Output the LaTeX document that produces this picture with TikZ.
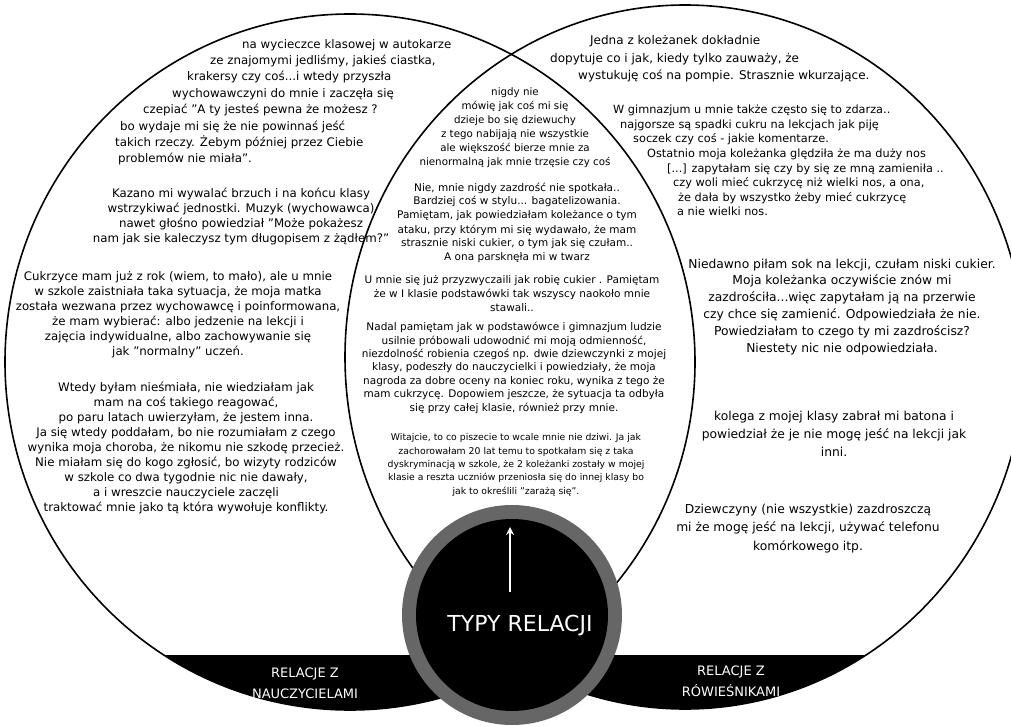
\documentclass[tikz,border=0pt]{standalone}
\usepackage{fontspec}
\setmainfont{DejaVu Sans}
\usetikzlibrary{arrows}

\begin{document}
\begin{tikzpicture}[x=1pt, y=-1pt,
    %Option for nice arrows
    >=stealth, %
    venn/.style={draw=black, line width=1.6pt},
    % multi-line nodes sit on the baseline of their last line
    story/.style 2 args={align=center, inner sep=0pt, anchor=base, font=\fontsize{#1}{#2}\selectfont},
    storyleft/.style 2 args={align=left, inner sep=0pt, anchor=base west, font=\fontsize{#1}{#2}\selectfont},
    bandlabel/.style={align=center, inner sep=0pt, text=white, font=\fontsize{13}{21}\selectfont},
]
    % Colors
    \colorlet{ringgray}{black!60}

    % Canvas
    \fill[white] (0,0) rectangle (1011,727);
    \useasboundingbox (0,0) rectangle (1011,727);

    % Circles
    \coordinate (L) at (350,362);
    \coordinate (R) at (685,357);
    \coordinate (M) at (512,615);
    \begin{scope}
      \clip (0,655) rectangle (1011,727);
      \fill (L) ellipse [x radius=345pt, y radius=348pt];
      \fill (R) ellipse [x radius=340pt, y radius=352pt];
    \end{scope}
    \draw[venn] (L) ellipse [x radius=345pt, y radius=348pt];
    \draw[venn] (R) ellipse [x radius=340pt, y radius=352pt];

    % Hub
    \fill[ringgray] (M) circle [radius=110pt];
    \fill[black] (M) circle [radius=96pt];
    \node[text=white, font=\fontsize{22}{26}\selectfont] (hub) at (520,626) {TYPY RELACJI};
    \coordinate (tail) at (510,592);
    \coordinate (tip) at (510,527);
    \draw[->, white, line width=2.5pt] (tail) -- (tip);

    \node[bandlabel] (teachers) at (305,683) {RELACJE Z\\NAUCZYCIELAMI};
    \node[bandlabel] (peers) at (731,681) {RELACJE Z\\RÓWIEŚNIKAMI};

    % Teachers
    \node[storyleft={11.8}{16.4}] (trip) at (115,163) {\hspace*{127pt}na wycieczce klasowej w autokarze\\\hspace*{95pt}ze znajomymi jedliśmy, jakieś ciastka,\\\hspace*{72pt}krakersy czy coś...i wtedy przyszła\\\hspace*{57pt}wychowawczyni do mnie i zaczęła się\\\hspace*{28pt}czepiać "A ty jesteś pewna że możesz ?\\\hspace*{5pt}bo wydaje mi się że nie powinnaś jeść\\takich rzeczy. Żebym później przez Ciebie\\\hspace*{3pt}problemów nie miała”.};
    \node[story={11.8}{15}] (belly) at (241,243) {Kazano mi wywalać brzuch i na końcu klasy\\wstrzykiwać jednostki. Muzyk (wychowawca)\\nawet głośno powiedział "Może pokażesz\\nam jak sie kaleczysz tym długopisem z żądłem?"};
    \node[story={11.8}{15}] (mother) at (178,355) {Cukrzyce mam już z rok (wiem, to mało), ale u mnie\\w szkole zaistniała taka sytuacja, że moja matka\\została wezwana przez wychowawcę i poinformowana,\\że mam wybierać:  albo jedzenie na lekcji i\\zajęcia indywidualne, albo zachowywanie się\\jak "normalny" uczeń.};
    \node[story={11.8}{15}] (shy) at (186,511) {Wtedy byłam nieśmiała, nie wiedziałam jak\\mam na coś takiego reagować,\\po paru latach uwierzyłam, że jestem inna.\\Ja się wtedy poddałam, bo nie rozumiałam z czego\\wynika moja choroba, że nikomu nie szkodę przecież.\\Nie miałam się do kogo zgłosić, bo wizyty rodziców\\w szkole co dwa tygodnie nic nie dawały,\\a i wreszcie nauczyciele zaczęli\\traktować mnie jako tą która wywołuje konflikty.};

    % Both
    \node[story={10.3}{14}] (silent) at (515,166) {nigdy nie\\mówię jak coś mi się\\dzieje bo się dziewuchy\\z tego nabijają nie wszystkie\\ale większość bierze mnie za\\nienormalną jak mnie trzęsie czy coś};
    \node[story={10.5}{14}] (laugh) at (517,261) {Nie, mnie nigdy zazdrość nie spotkała..\\Bardziej coś w stylu... bagatelizowania.\\Pamiętam, jak powiedziałam koleżance o tym\\ataku, przy którym mi się wydawało, że mam\\strasznie niski cukier, o tym jak się czułam..\\A ona parsknęła mi w twarz};
    \node[story={10.5}{14}] (used) at (512,311) {U mnie się już przyzwyczaili jak robię cukier .  Pamiętam\\że w I klasie podstawówki tak wszyscy naokoło mnie\\stawali..};
    \node[story={10.5}{13.4}] (prize) at (514,411) {Nadal pamiętam jak w podstawówce i gimnazjum ludzie\\usilnie próbowali udowodnić mi moją odmienność,\\niezdolność robienia czegoś np. dwie dziewczynki z mojej\\klasy, podeszły do nauczycielki i powiedziały, że moja\\nagroda za dobre oceny na koniec roku, wynika z tego że\\mam cukrzycę. Dopowiem jeszcze, że sytuacja ta odbyła\\się przy całej klasie, również przy mnie.};
    \node[story={9.3}{13.3}] (welcome) at (516,494) {Witajcie, to co piszecie to wcale mnie nie dziwi. Ja jak\\zachorowałam 20 lat temu to spotkałam się z taka\\dyskryminacją w szkole, że 2 koleżanki zostały w mojej\\klasie a reszta uczniów przeniosła się do innej klasy bo\\jak to określili "zarażą się".};

    % Peers
    \node[storyleft={12}{17.5}] (pump) at (550,80) {\hspace*{40pt}Jedna z koleżanek dokładnie\\dopytuje co i jak, kiedy tylko zauważy, że\\\hspace*{28pt}wystukuję coś na pompie. Strasznie wkurzające.};
    \node[storyleft={11.3}{14.6}] (nose) at (613,216) {W gimnazjum u mnie także często się to zdarza..\\\hspace*{7pt}najgorsze są spadki cukru na lekcjach jak piję\\\hspace*{20pt}soczek czy coś - jakie komentarze.\\\hspace*{34pt}Ostatnio moja koleżanka ględziła że ma duży nos\\\hspace*{54pt}{[...]} zapytałam się czy by się ze mną zamieniła ..\\\hspace*{60pt}czy woli mieć cukrzycę niż wielki nos, a ona,\\\hspace*{65pt}że dała by wszystko żeby mieć cukrzycę\\\hspace*{64pt}a nie wielki nos.};
    \node[story={12.3}{16.8}] (juice) at (842,352) {Niedawno piłam sok na lekcji, czułam niski cukier.\\Moja koleżanka oczywiście znów mi\\zazdrościła...więc zapytałam ją na przerwie\\czy chce się zamienić. Odpowiedziała że nie.\\Powiedziałam to czego ty mi zazdrościsz?\\Niestety nic nie odpowiedziała.};
    \node[story={12.3}{18}] (bar) at (834,456) {kolega z mojej klasy zabrał mi batona i\\powiedział że je nie mogę jeść na lekcji jak\\inni.};
    \node[story={12.3}{18.5}] (phone) at (808,550) {Dziewczyny (nie wszystkie) zazdroszczą\\mi że mogę jeść na lekcji, używać telefonu\\komórkowego itp.};
\end{tikzpicture}
\end{document}
